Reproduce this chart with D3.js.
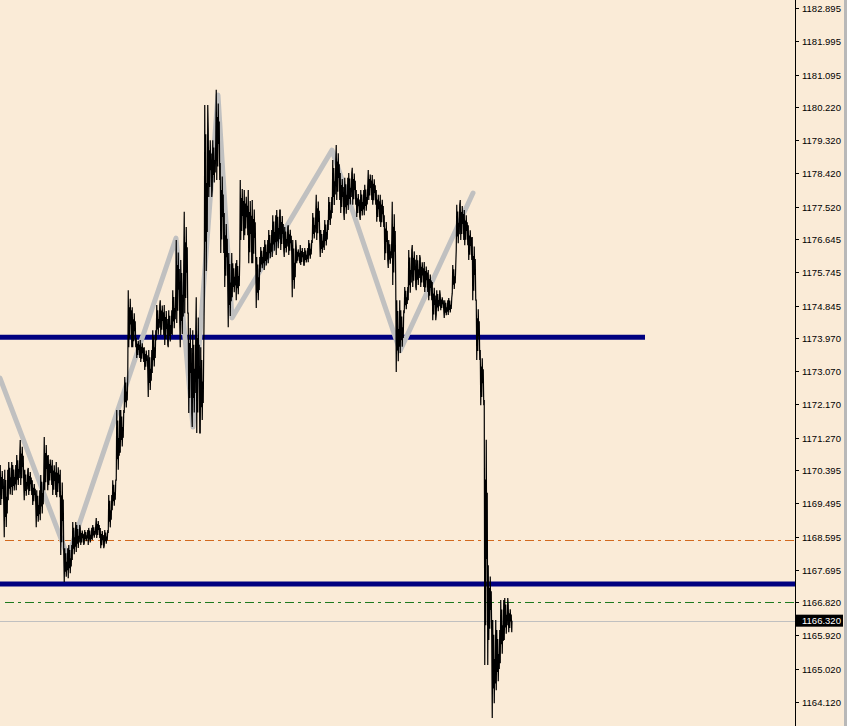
<!DOCTYPE html>
<html>
<head>
<meta charset="utf-8">
<script src="https://cdn.jsdelivr.net/npm/d3@7/dist/d3.min.js"></script>
<style>
html,body{margin:0;padding:0;background:#FAEBD7;}
svg{display:block;}
</style>
</head>
<body>
<svg id="chart" width="847" height="726"></svg>
<script>
// ---- data ----
const tickLabels = ["1182.895","1181.995","1181.095","1180.220","1179.320","1178.420","1177.520","1176.645","1175.745","1174.845","1173.970","1173.070","1172.170","1171.270","1170.395","1169.495","1168.595","1167.695","1166.820","1165.920","1165.020","1164.120"];

// price ranges per time bin (bin index 0..127)
const barHigh = [1170.53,1170.40,1170.61,1170.53,1170.80,1171.21,1170.40,1170.45,1170.12,1169.85,
1170.26,1171.29,1170.80,1170.67,1170.61,1170.40,1168.28,1168.37,1168.99,1168.91,
1168.83,1168.77,1168.83,1168.91,1169.10,1168.83,1168.77,1169.72,1170.12,1172.02,
1172.02,1172.91,1175.26,1174.80,1173.97,1173.91,1173.72,1173.64,1174.18,1174.86,
1174.99,1174.86,1174.72,1175.26,1176.62,1176.08,1177.38,1174.64,1174.18,1175.07,
1173.72,1180.27,1179.59,1179.32,1180.68,1178.70,1177.35,1176.27,1175.99,1176.08,
1178.24,1177.97,1177.97,1177.70,1176.16,1176.43,1176.62,1176.89,1177.29,1177.43,
1177.43,1176.97,1177.02,1176.62,1176.43,1176.48,1176.40,1176.62,1177.35,1177.84,
1176.89,1177.16,1177.78,1178.78,1179.19,1178.43,1178.30,1178.43,1178.57,1177.97,
1177.97,1178.11,1178.51,1178.38,1177.97,1177.84,1177.29,1176.62,1177.65,1174.99,
1174.72,1175.35,1176.35,1176.48,1176.21,1176.13,1176.02,1175.81,1175.48,1175.26,
1175.13,1174.99,1175.05,1175.94,1177.57,1177.70,1177.43,1177.02,1176.70,1174.99,
1173.64,1172.29,1167.82,1166.34,1166.07,1166.88,1166.93,1166.74];
const barLow = [1169.45,1168.58,1169.58,1169.72,1169.85,1169.99,1169.58,1169.72,1169.45,1168.85,
1169.04,1169.85,1169.99,1169.72,1169.66,1168.10,1167.37,1167.47,1167.96,1168.18,
1168.37,1168.42,1168.37,1168.50,1168.56,1168.28,1168.34,1168.69,1169.31,1170.12,
1170.86,1171.94,1173.72,1173.72,1173.43,1173.32,1173.10,1172.37,1173.02,1173.91,
1174.05,1173.78,1173.72,1174.05,1174.37,1173.72,1174.64,1171.94,1171.56,1171.40,
1171.40,1174.99,1177.78,1177.97,1178.24,1176.27,1175.35,1174.26,1175.07,1174.99,
1176.62,1176.75,1175.99,1175.99,1174.78,1175.75,1175.81,1175.99,1176.16,1176.21,
1176.35,1176.16,1176.21,1175.07,1175.99,1175.94,1175.94,1176.02,1176.54,1176.62,
1176.16,1176.35,1176.89,1177.35,1177.70,1177.35,1177.16,1177.43,1177.57,1177.24,
1177.16,1177.29,1177.70,1177.57,1177.11,1176.97,1176.08,1175.86,1175.40,1173.05,
1173.56,1174.64,1174.99,1175.35,1175.26,1175.35,1175.21,1174.99,1174.45,1174.59,
1174.72,1174.51,1174.59,1175.18,1176.35,1176.62,1176.48,1176.08,1174.99,1173.37,
1172.15,1165.12,1165.80,1163.69,1164.44,1165.17,1165.80,1166.01];
const lastPrice = 1166.32;

// zigzag (bin index, price)
const zigzagIndex = [0, 17, 44, 48.25, 54.5, 58, 83, 100, 118.25];
const zigzagPrice = [1172.88, 1168.04, 1176.67, 1171.56, 1180.54, 1174.51, 1179.05, 1173.62, 1177.89];

// horizontal levels
const blueLevels = [{price:1173.99, endIndex:161.25},{price:1167.31, endIndex:null}];
const dashLevels = [{price:1168.50, color:"#D2691E", startIndex:1.25},{price:1166.82, color:"#1E7A1E", startIndex:1.25}];

// ---- drawing ----
const W = 847, H = 726, axisX = 795;
const svg = d3.select("#chart");
svg.append("rect").attr("width",W).attr("height",H).attr("fill","#FAEBD7");

const x = d3.scaleLinear().domain([0,128]).range([0,512]);
const y = d3.scaleLinear().domain([1164.120,1182.895]).range([702,8]);

const plot = svg.append("g");

// current price line
plot.append("line").attr("x1",0).attr("x2",axisX)
  .attr("y1",Math.round(y(lastPrice))+0.5).attr("y2",Math.round(y(lastPrice))+0.5)
  .attr("stroke","#C0C0C0").attr("stroke-width",1);

// dash-dot lines
dashLevels.forEach(d=>{
  plot.append("line").attr("x1",x(d.startIndex)).attr("x2",axisX)
    .attr("y1",Math.round(y(d.price))+0.5).attr("y2",Math.round(y(d.price))+0.5)
    .attr("stroke",d.color).attr("stroke-width",1).attr("stroke-dasharray","9,4,3,4");
});

// blue levels
blueLevels.forEach(d=>{
  plot.append("line").attr("x1",0).attr("x2",d.endIndex==null?axisX:x(d.endIndex))
    .attr("y1",y(d.price)).attr("y2",y(d.price))
    .attr("stroke","#000080").attr("stroke-width",5);
});

// zigzag
const zz = zigzagIndex.map((v,i)=>[x(v), y(zigzagPrice[i])]);
plot.append("path").attr("d",d3.line()(zz)).attr("fill","none")
  .attr("stroke","#C0C0C0").attr("stroke-width",5)
  .attr("stroke-linejoin","round").attr("stroke-linecap","round");

// price path: each bin is traced as a dense up/down swing between its low and high
const swing = [0, 1, 0.3, 0.85, 0.15, 0.6, 0.35, 1];
const pts = [];
for(let i=0;i<barHigh.length;i++){
  const mid = (barHigh[i]+barLow[i])/2;
  const nextMid = i<barHigh.length-1 ? (barHigh[i+1]+barLow[i+1])/2 : lastPrice;
  const rising = nextMid > mid;
  const a = rising ? barLow[i] : barHigh[i];
  const b = rising ? barHigh[i] : barLow[i];
  swing.forEach((t,k)=>{
    pts.push([x(i + (k+0.5)/swing.length), y(a + (b-a)*t)]);
  });
}
pts.push([x(128), y(lastPrice)]);
plot.append("path").attr("d",d3.line()(pts)).attr("fill","none")
  .attr("stroke","#000").attr("stroke-width",1.2).attr("stroke-linejoin","miter");

// right axis
svg.append("rect").attr("x",axisX+1).attr("y",0).attr("width",W-axisX-1).attr("height",H).attr("fill","#FAEBD7");
svg.append("line").attr("x1",axisX+0.5).attr("x2",axisX+0.5).attr("y1",0).attr("y2",H)
  .attr("stroke","#000").attr("stroke-width",1);
const ticks = svg.append("g");
tickLabels.forEach(t=>{
  const ty = Math.round(y(+t))+0.5;
  ticks.append("line").attr("x1",axisX).attr("x2",axisX+4).attr("y1",ty).attr("y2",ty)
    .attr("stroke","#000").attr("stroke-width",1);
  ticks.append("text").attr("x",802).attr("y",ty+3.5).text(t)
    .attr("font-family","Liberation Sans, Arial, sans-serif").attr("font-size","9.5px").attr("fill","#000");
});
// current price label
const ly = y(lastPrice);
svg.append("rect").attr("x",axisX+1).attr("y",ly-6).attr("width",47).attr("height",12).attr("fill","#000");
svg.append("text").attr("x",802).attr("y",ly+3.5).text(lastPrice.toFixed(3))
  .attr("font-family","Liberation Sans, Arial, sans-serif").attr("font-size","9.5px").attr("fill","#fff");

// window border on the right
svg.append("rect").attr("x",844).attr("y",0).attr("width",3).attr("height",H).attr("fill","#B8B8B8");
</script>
</body>
</html>
